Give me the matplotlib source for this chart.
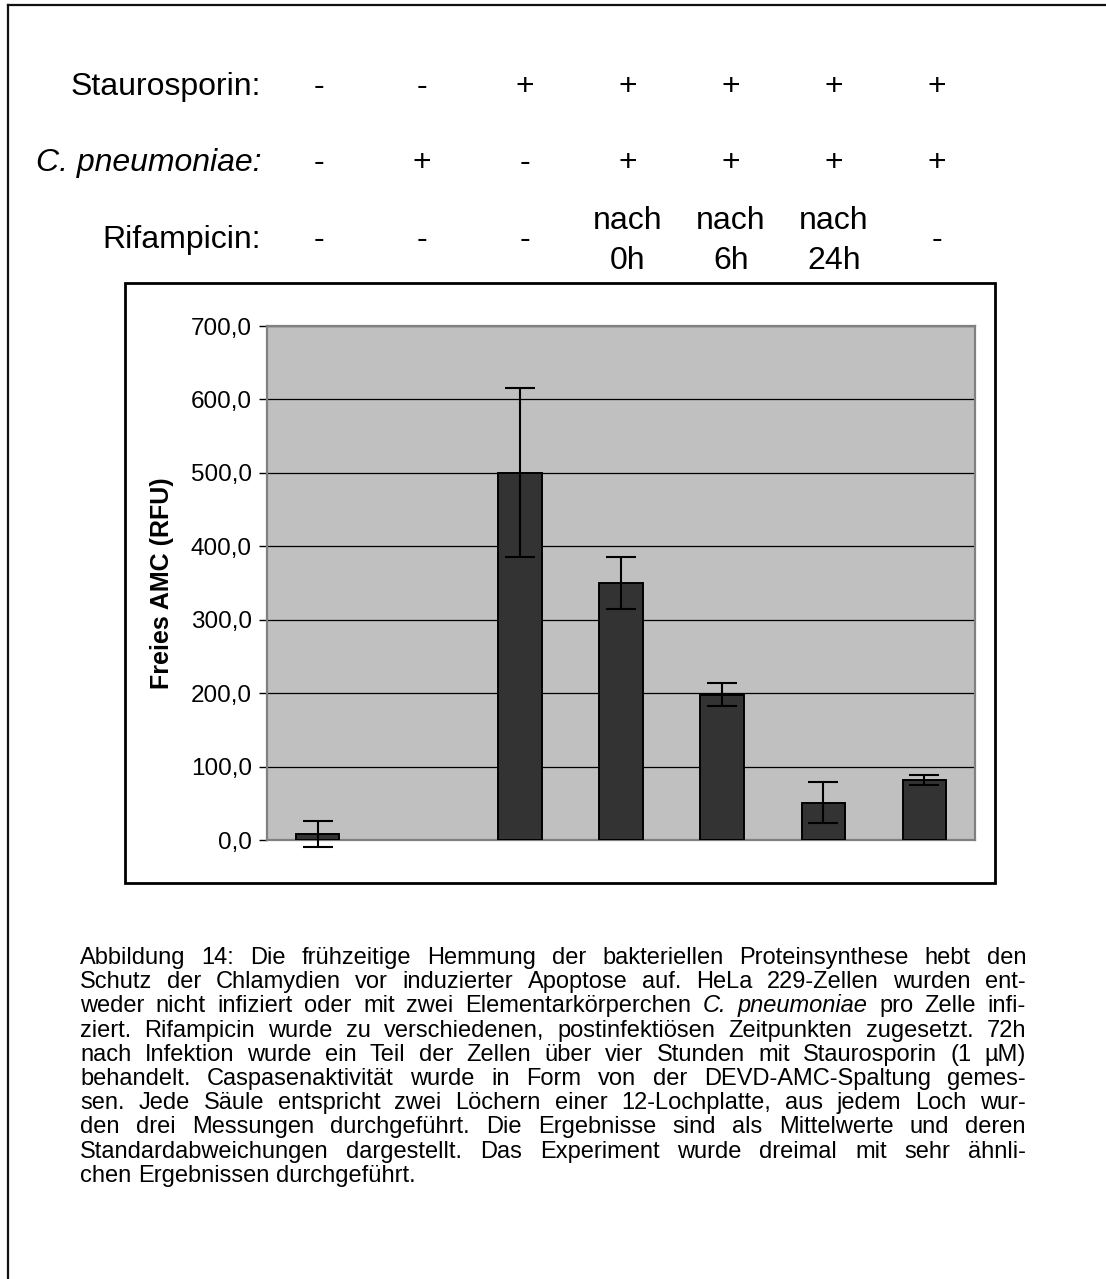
import matplotlib
matplotlib.use('Agg')
import matplotlib.pyplot as plt
from matplotlib.patches import Rectangle
from matplotlib.lines import Line2D
import numpy as np

plt.rcParams['font.family'] = ['Liberation Sans', 'DejaVu Sans']

W, H = 1106, 1279

# treatment scheme above the bars
staurosporin = ['-', '-', '+', '+', '+', '+', '+']
pneumoniae = ['-', '+', '-', '+', '+', '+', '+']
rifampicin = ['-', '-', '-', 'nach 0h', 'nach 6h', 'nach 24h', '-']

# free AMC (RFU), mean and standard deviation per column
amc_mean = [8, 0, 500, 350, 198, 51, 82]
amc_sd = [18, 0, 115, 35, 16, 28, 7]
y_ticks = [0, 100, 200, 300, 400, 500, 600, 700]

caption_lines = [
    "Abbildung 14: Die frühzeitige Hemmung der bakteriellen Proteinsynthese hebt den",
    "Schutz der Chlamydien vor induzierter Apoptose auf. HeLa 229-Zellen wurden ent-",
    "weder nicht infiziert oder mit zwei Elementarkörperchen *C. pneumoniae* pro Zelle infi-",
    "ziert. Rifampicin wurde zu verschiedenen, postinfektiösen Zeitpunkten zugesetzt. 72h",
    "nach Infektion wurde ein Teil der Zellen über vier Stunden mit Staurosporin (1 µM)",
    "behandelt. Caspasenaktivität wurde in Form von der DEVD-AMC-Spaltung gemes-",
    "sen. Jede Säule entspricht zwei Löchern einer 12-Lochplatte, aus jedem Loch wur-",
    "den drei Messungen durchgeführt. Die Ergebnisse sind als Mittelwerte und deren",
    "Standardabweichungen dargestellt. Das Experiment wurde dreimal mit sehr ähnli-",
    "chen Ergebnissen durchgeführt.",
]


def fx(px):
    return px / W


def fy(py):
    return 1 - py / H


fig = plt.figure(figsize=(W / 100, H / 100), dpi=100)

# page frame (left and top edge only)
fig.add_artist(Line2D([fx(8), fx(8)], [fy(5), 0], transform=fig.transFigure,
                      color='#111111', lw=1.6))
fig.add_artist(Line2D([fx(8), 1], [fy(5), fy(5)], transform=fig.transFigure,
                      color='#111111', lw=1.6))

# header rows
col_x = np.linspace(319, 937, 7)
hdr_size = 23
fig.text(fx(261), fy(95), 'Staurosporin:', fontsize=hdr_size, ha='right', va='baseline')
fig.text(fx(261), fy(171), 'C. pneumoniae:', fontsize=hdr_size, ha='right',
         va='baseline', style='italic')
fig.text(fx(261), fy(248), 'Rifampicin:', fontsize=hdr_size, ha='right', va='baseline')
for x, s, c, r in zip(col_x, staurosporin, pneumoniae, rifampicin):
    fig.text(fx(x), fy(95), s, fontsize=hdr_size, ha='center', va='baseline')
    fig.text(fx(x), fy(171), c, fontsize=hdr_size, ha='center', va='baseline')
    if ' ' in r:
        top, bottom = r.split(' ')
        fig.text(fx(x), fy(229), top, fontsize=hdr_size, ha='center', va='baseline')
        fig.text(fx(x), fy(269), bottom, fontsize=hdr_size, ha='center', va='baseline')
    else:
        fig.text(fx(x), fy(248), r, fontsize=hdr_size, ha='center', va='baseline')

# chart frame
fig.add_artist(Rectangle((fx(125), fy(883)), fx(995) - fx(125), (883 - 283) / H,
                         transform=fig.transFigure, fill=False, ec='black', lw=2.0))

ax = fig.add_axes([fx(267), fy(840), (975 - 267) / W, (840 - 326) / H])
ax.set_facecolor('#c0c0c0')
x = np.arange(len(amc_mean))
edge_w = [1.4 if v > 0 else 0 for v in amc_mean]
ax.bar(x, amc_mean, width=0.43, color='#333333', edgecolor='black', linewidth=edge_w, zorder=3)
mask = np.array(amc_sd) > 0
ax.errorbar(x[mask], np.array(amc_mean)[mask], yerr=np.array(amc_sd)[mask], fmt='none',
            ecolor='black', elinewidth=1.5, capsize=11, capthick=1.5, zorder=4, clip_on=False)
ax.set_xlim(-0.5, len(amc_mean) - 0.5)
ax.set_ylim(0, 700)
ax.set_yticks(y_ticks)
ax.set_yticklabels([f"{v:.1f}".replace('.', ',') for v in y_ticks])
ax.yaxis.grid(True, color='black', lw=0.9)
ax.set_axisbelow(True)
for sp in ax.spines.values():
    sp.set_color('#808080')
    sp.set_linewidth(1.6)
ax.tick_params(axis='x', bottom=False, labelbottom=False)
ax.tick_params(axis='y', length=6, width=1.0, color='black', labelsize=17.5, pad=5)
fig.text(fx(162), fy(583), 'Freies AMC (RFU)', fontsize=18, fontweight='bold',
         rotation=90, ha='center', va='center')

# justified caption
renderer = fig.canvas.get_renderer()
left, right = 80, 1026
cap_size = 17
for i, line in enumerate(caption_lines):
    y = fy(964 + i * 24.2)
    words = []
    italic = False
    for tok in line.split():
        if tok.startswith('*'):
            italic = True
            tok = tok[1:]
        style = 'italic' if italic else 'normal'
        if tok.endswith('*'):
            tok = tok[:-1]
            italic = False
        words.append(fig.text(0, y, tok, fontsize=cap_size, style=style,
                              ha='left', va='baseline'))
    widths = [t.get_window_extent(renderer).width for t in words]
    if i == len(caption_lines) - 1:
        gap = 0.278 * cap_size * 100 / 72
    else:
        gap = (right - left - sum(widths)) / (len(words) - 1)
    pos = left
    for t, w in zip(words, widths):
        t.set_x(fx(pos))
        pos += w + gap

fig.savefig('out.png', dpi=100)
